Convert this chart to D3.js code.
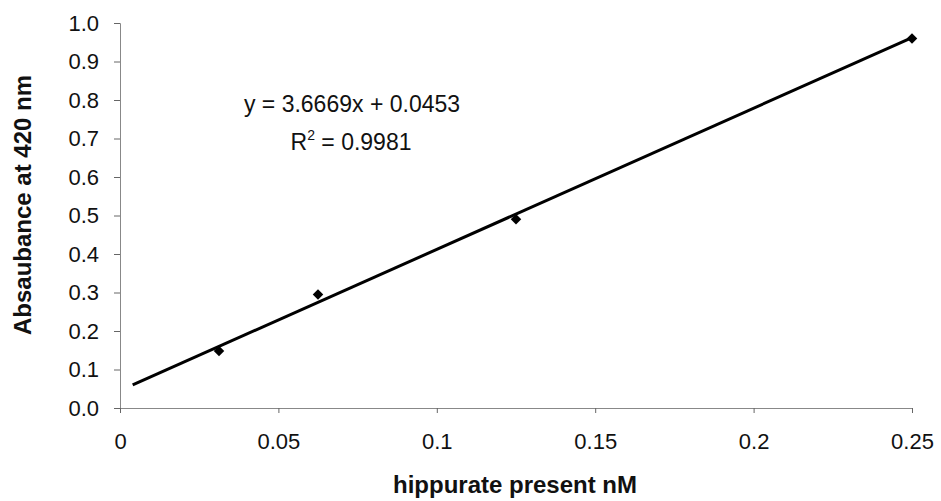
<!DOCTYPE html>
<html lang="en">
<head>
<meta charset="utf-8">
<title>Hippurate standard curve</title>
<script src="https://cdn.jsdelivr.net/npm/d3@7"></script>
<style>
  body { margin: 0; background: #fff; }
  text { font-family: "Liberation Sans", Arial, sans-serif; }
</style>
</head>
<body>
<script>
var width = 941;
var height = 501;

// data
var hippurate = [0.03125, 0.0625, 0.125, 0.25];
var absorbance = [0.148, 0.295, 0.49, 0.96];
var xTicks = [0, 0.05, 0.1, 0.15, 0.2, 0.25];
var yTicks = [0, 0.1, 0.2, 0.3, 0.4, 0.5, 0.6, 0.7, 0.8, 0.9, 1.0];
var slope = 3.6669;
var intercept = 0.0453;
var rSquared = 0.9981;
var trendRange = [0.004, 0.25];

var x = d3.scaleLinear().domain([0, 0.25]).range([120, 912]);
var y = d3.scaleLinear().domain([0, 1]).range([408, 23]);

var svg = d3.select("body").append("svg")
            .attr("width", width)
            .attr("height", height);

// y axis
var yAxis = svg.append("g")
   .attr("transform", "translate(" + x(0) + ",0)")
   .call(d3.axisLeft(y).tickValues(yTicks).tickFormat(d3.format(".1f")).tickSize(6).tickPadding(15));
yAxis.selectAll("text").attr("font-size", 22).attr("fill", "#111");

// x axis
var xAxis = svg.append("g")
   .attr("transform", "translate(0," + y(0) + ")")
   .call(d3.axisBottom(x).tickValues(xTicks)
          .tickFormat(function(d) { return d === 0 ? "0" : String(d); })
          .tickSize(5).tickPadding(20));
xAxis.selectAll("text").attr("font-size", 22).attr("fill", "#111");

svg.selectAll(".domain").attr("stroke", "#888").attr("stroke-width", 1);
svg.selectAll(".tick line").attr("stroke", "#666");

// trend line
var line = d3.line()
   .x(function(d) { return x(d); })
   .y(function(d) { return y(slope * d + intercept); });

svg.append("path")
   .datum(trendRange)
   .attr("d", line)
   .attr("fill", "none")
   .attr("stroke", "#000")
   .attr("stroke-width", 3);

// points
svg.selectAll(".pt")
   .data(hippurate)
   .enter()
   .append("path")
   .attr("class", "pt")
   .attr("d", d3.symbol().type(d3.symbolDiamond2).size(70))
   .attr("transform", function(d, i) {
     return "translate(" + x(d) + "," + y(absorbance[i]) + ")";
   })
   .attr("fill", "#000");

// equation
var eq = svg.append("g").attr("font-size", 23).attr("fill", "#111");
eq.append("text")
  .attr("x", 352).attr("y", 112)
  .attr("text-anchor", "middle")
  .text("y = " + slope + "x + " + intercept);
var r2 = eq.append("text")
  .attr("x", 351).attr("y", 150)
  .attr("text-anchor", "middle");
r2.append("tspan").text("R");
r2.append("tspan").attr("font-size", 14).attr("dy", -10).text("2");
r2.append("tspan").attr("dy", 10).text(" = " + rSquared);

// axis titles
svg.append("text")
   .attr("x", 515).attr("y", 493)
   .attr("text-anchor", "middle")
   .attr("font-size", 24)
   .attr("font-weight", "bold")
   .attr("fill", "#111")
   .text("hippurate present nM");

svg.append("text")
   .attr("transform", "translate(31,205) rotate(-90)")
   .attr("text-anchor", "middle")
   .attr("font-size", 24)
   .attr("font-weight", "bold")
   .attr("fill", "#111")
   .text("Absaubance at 420 nm");
</script>
</body>
</html>
